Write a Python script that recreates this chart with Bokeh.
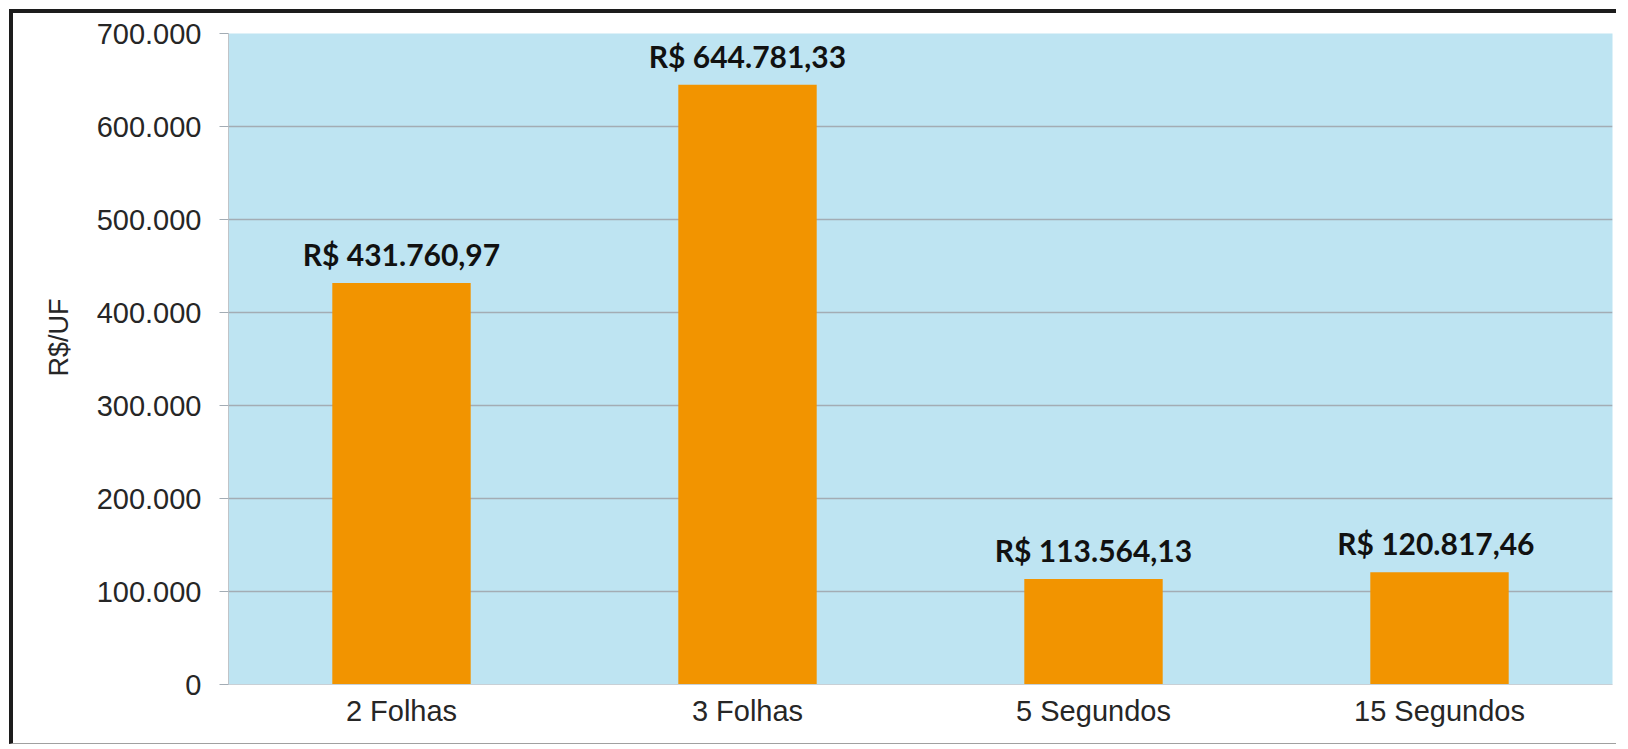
from bokeh.plotting import figure
from bokeh.models import ColumnDataSource, Range1d, FixedTicker, LabelSet, Title
from bokeh.embed import file_html
from bokeh.resources import INLINE
from bokeh.core.properties import value

categories = ["2 Folhas", "3 Folhas", "5 Segundos", "15 Segundos"]
values = [431760.97, 644781.33, 113564.13, 120817.46]
value_labels = ["R$ 431.760,97", "R$ 644.781,33", "R$ 113.564,13", "R$  120.817,46"]
y_ticks = [0, 100000, 200000, 300000, 400000, 500000, 600000, 700000]
y_tick_labels = ["0", "100.000", "200.000", "300.000", "400.000", "500.000", "600.000", "700.000"]
y_title = "R$/UF"

source = ColumnDataSource(dict(cat=categories, val=values, lab=value_labels))

p = figure(x_range=categories, y_range=Range1d(0, 700000),
           width=1607, height=735, output_backend="svg", toolbar_location=None,
           min_border_left=215, min_border_right=8, min_border_top=20, min_border_bottom=64)

p.styles = {"margin-left": "9px", "margin-top": "9px",
            "border-left": "4px solid #1c1c1c", "border-top": "4px solid #1c1c1c",
            "border-bottom": "1px solid #a0a0a0"}

p.background_fill_color = "#BEE4F2"
p.border_fill_color = "white"
p.outline_line_color = None

p.vbar(x="cat", top="val", width=0.40, source=source, fill_color="#F29400", line_color=None)

labels = LabelSet(x="cat", y="val", text="lab", source=source, text_align="center",
                  text_baseline="alphabetic", y_offset=17, text_font=value("Lato"),
                  text_font_style="bold", text_font_size="30px", text_color="#111111")
p.add_layout(labels)

side_title = Title(text=y_title, align="left", offset=308, standoff=36, vertical_align="top",
                   text_font="Liberation Sans", text_font_style="normal",
                   text_font_size="27px", text_color="#262626")
p.add_layout(side_title, "left")

p.xgrid.grid_line_color = None
p.ygrid.grid_line_color = "#A3ACB4"
p.ygrid.grid_line_width = 1.5

p.yaxis.ticker = FixedTicker(ticks=y_ticks)
p.yaxis.major_label_overrides = {t: l for t, l in zip(y_ticks, y_tick_labels)}
p.yaxis.minor_tick_line_color = None
p.yaxis.major_tick_in = 0
p.yaxis.major_tick_out = 9
p.yaxis.major_tick_line_color = "#A3ACB4"
p.yaxis.axis_line_color = "#C0C4C8"
p.yaxis.major_label_standoff = 18
p.yaxis.major_label_text_font = "Liberation Sans"
p.yaxis.major_label_text_font_size = "29px"
p.yaxis.major_label_text_color = "#262626"

p.xaxis.major_tick_line_color = None
p.xaxis.minor_tick_line_color = None
p.xaxis.axis_line_color = "#C8D0D6"
p.xaxis.major_label_standoff = 4
p.xaxis.major_label_text_font = "Liberation Sans"
p.xaxis.major_label_text_font_size = "29px"
p.xaxis.major_label_text_color = "#262626"

open("out.html", "w").write(file_html(p, INLINE))
